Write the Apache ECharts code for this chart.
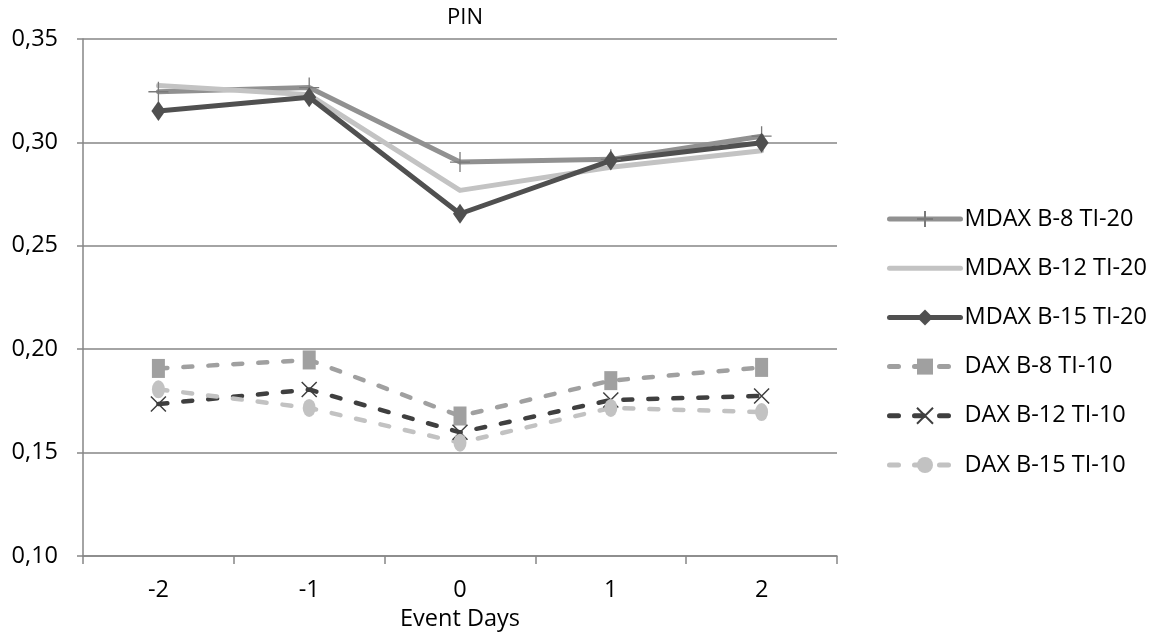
<!DOCTYPE html>
<html>
<head>
<meta charset="utf-8">
<script src="https://cdn.jsdelivr.net/npm/echarts@6/dist/echarts.min.js"></script>
<style>html,body{margin:0;padding:0;background:#fff}#c{width:1159px;height:635px}</style>
</head>
<body>
<div id="c"></div>
<script>
const categories = ['-2', '-1', '0', '1', '2'];
const seriesNames = ['MDAX B-8 TI-20', 'MDAX B-12 TI-20', 'MDAX B-15 TI-20', 'DAX B-8 TI-10', 'DAX B-12 TI-10', 'DAX B-15 TI-10'];
const mdaxB8 = [0.3245, 0.3265, 0.2905, 0.2918, 0.3030];
const mdaxB12 = [0.3275, 0.3230, 0.2768, 0.2880, 0.2960];
const mdaxB15 = [0.3152, 0.3218, 0.2655, 0.2912, 0.2998];
const daxB8 = [0.1907, 0.1948, 0.1677, 0.1848, 0.1912];
const daxB12 = [0.1735, 0.1805, 0.1598, 0.1754, 0.1774];
const daxB15 = [0.1806, 0.1716, 0.1548, 0.1716, 0.1696];
const yTicks = { min: 0.10, max: 0.35, interval: 0.05 };

const FONT = 'Open Sans';
const FS = 23.5;
const plus = 'path://M5,0 L5,10 M0,5 L10,5';
const cross = 'path://M0,0 L10,10 M10,0 L0,10';
const dash = [9, 16];

function solid(name, data, color, symbol, size, mk, hidden) {
  return {
    name, type: 'line', data, symbol, symbolSize: size, showSymbol: !hidden,
    lineStyle: { color, width: 5, cap: 'round', join: 'round' },
    itemStyle: hidden ? { color: 'rgba(0,0,0,0)', borderWidth: 0 } :
      (mk ? { color: 'rgba(0,0,0,0)', borderColor: mk, borderWidth: 1.3 } : { color, borderWidth: 0 }),
    emphasis: { disabled: true }, animation: false
  };
}
function dashed(name, data, color, symbol, size, mk) {
  return {
    name, type: 'line', data, symbol, symbolSize: size,
    lineStyle: { color, width: 4.5, type: dash, cap: 'round', join: 'round' },
    itemStyle: mk ? { color: 'rgba(0,0,0,0)', borderColor: mk, borderWidth: 1.5 } : { color, borderWidth: 0 },
    emphasis: { disabled: true }, animation: false
  };
}

const chart = echarts.init(document.getElementById('c'));
chart.setOption({
  backgroundColor: '#fff',
  animation: false,
  title: { text: 'PIN', left: 460, textAlign: 'center', top: 2, textStyle: { fontFamily: FONT, fontSize: 22, fontWeight: 'normal', color: '#000' } },
  grid: { left: 83, right: 322, top: 39, bottom: 79, containLabel: false, outerBoundsMode: 'none' },
  legend: {
    orient: 'vertical', left: 887, top: 207, padding: 0,
    itemWidth: 71, itemHeight: 20, itemGap: 25.2,
    data: seriesNames,
    lineStyle: { width: 5 },
    textStyle: { fontFamily: FONT, fontSize: FS, color: '#000', lineHeight: 20, padding: [0, 0, 0, -1] }
  },
  xAxis: {
    type: 'category', data: categories, boundaryGap: true,
    name: 'Event Days', nameLocation: 'middle', nameGap: 50,
    nameTextStyle: { fontFamily: FONT, fontSize: FS, color: '#000' },
    axisLine: { lineStyle: { color: '#868686', width: 1.5 } },
    axisTick: { show: true, length: 8, lineStyle: { color: '#868686', width: 1.5 } },
    axisLabel: { fontFamily: FONT, fontSize: FS, color: '#000', margin: 22 }
  },
  yAxis: {
    type: 'value', min: yTicks.min, max: yTicks.max, interval: yTicks.interval,
    axisLine: { show: true, lineStyle: { color: '#868686', width: 1.5 } },
    axisTick: { show: true, length: 6, lineStyle: { color: '#868686', width: 1.5 } },
    splitLine: { lineStyle: { color: '#868686', width: 1.5 } },
    axisLabel: { fontFamily: FONT, fontSize: FS, color: '#000', margin: 25, formatter: v => v.toFixed(2).replace('.', ',') }
  },
  series: [
    solid(seriesNames[0], mdaxB8, '#919191', plus, [20, 20], '#7a7a7a'),
    solid(seriesNames[1], mdaxB12, '#c3c3c3', 'circle', 1, null, true),
    solid(seriesNames[2], mdaxB15, '#505050', 'diamond', [14, 20], null),
    dashed(seriesNames[3], daxB8, '#a0a0a0', 'rect', [13, 19], null),
    dashed(seriesNames[4], daxB12, '#3f3f3f', cross, [15, 15], '#3f3f3f'),
    dashed(seriesNames[5], daxB15, '#c2c2c2', 'circle', [13, 18], null)
  ]
});
</script>
</body>
</html>
